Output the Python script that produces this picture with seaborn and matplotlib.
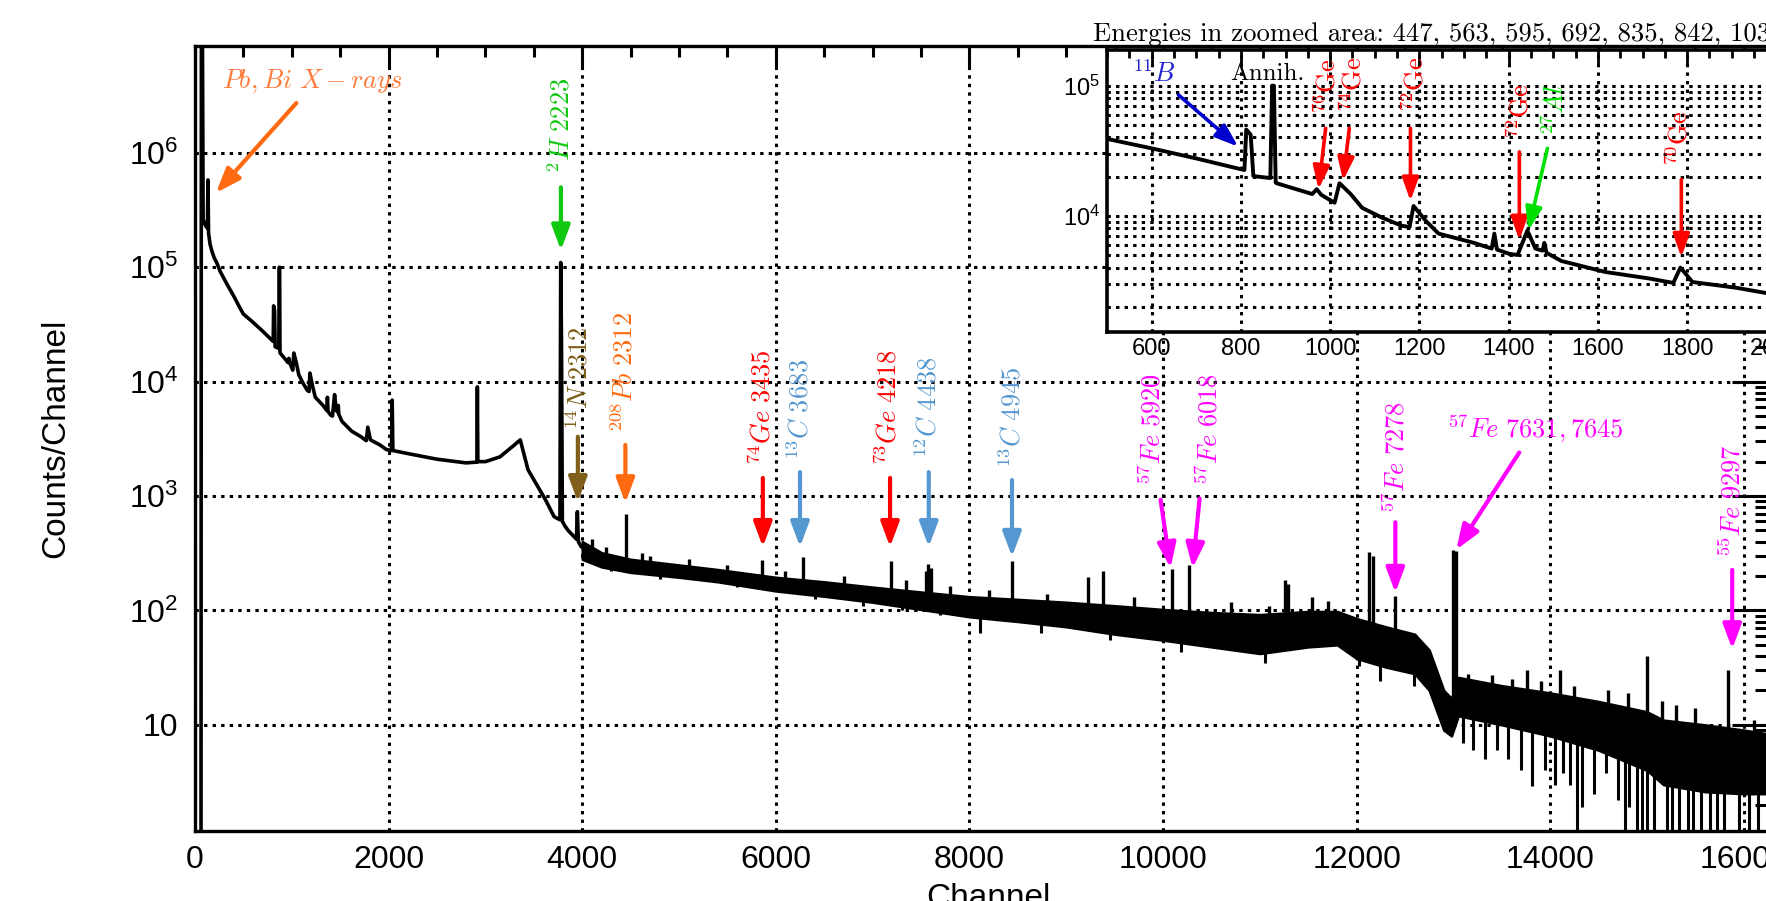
import numpy as np
import pandas as pd
import matplotlib
matplotlib.use("Agg")
import matplotlib.pyplot as plt
import seaborn as sns
from matplotlib.ticker import MultipleLocator, LogLocator, NullFormatter, FuncFormatter, FixedLocator

# ---------------- data ----------------
# smooth low-channel part of the spectrum
spec_ch = [62, 66, 74, 84, 110, 128, 134, 140, 155, 175,
           200, 224, 260, 327, 400, 465, 500, 600, 700, 800,
           808, 812, 822, 828, 866, 870, 874, 878, 880, 960,
           970, 980, 1010, 1021, 1046, 1072, 1116, 1160, 1178, 1187,
           1215, 1243, 1322, 1362, 1368, 1374, 1402, 1420, 1442, 1460,
           1476, 1480, 1485, 1518, 1617, 1715, 1769, 1785, 1812, 1910,
           1977, 2030, 2037, 2044, 2200, 2500, 2800, 2912, 2917, 2922,
           3000, 3150, 3300, 3360, 3440, 3620, 3710, 3770, 3778, 3786,
           3795, 3820, 3855, 3940, 3950, 3960, 3990]
spec_counts = [0.5, 5e7, 5e7, 2.6e5, 2.3e5, 2.2e5, 5.8e5, 2.0e5, 1.6e5, 1.38e5,
               1.2e5, 1.1e5, 9.2e4, 7.2e4, 5.6e4, 4.4e4, 3.9e4, 3.3e4, 2.76e4, 2.28e4,
               2.25e4, 4.6e4, 4.2e4, 2.02e4, 1.95e4, 1.0e5, 1.0e5, 1.8e4, 1.78e4, 1.47e4,
               1.6e4, 1.45e4, 1.26e4, 1.78e4, 1.47e4, 1.15e4, 9.7e3, 8.4e3, 8.2e3, 1.19e4,
               9.1e3, 7.3e3, 6.2e3, 5.6e3, 7.3e3, 5.5e3, 5.1e3, 5.0e3, 7.7e3, 5.6e3,
               5.4e3, 6.2e3, 5.2e3, 4.5e3, 3.7e3, 3.3e3, 3.05e3, 4.0e3, 3.1e3, 2.8e3,
               2.55e3, 2.5e3, 6.9e3, 2.5e3, 2.35e3, 2.1e3, 1.95e3, 1.98e3, 9.0e3, 2.0e3,
               2.0e3, 2.2e3, 2.8e3, 3.1e3, 1.7e3, 930, 660, 620, 1.1e5, 2.2e4,
               600, 550, 500, 420, 730, 400, 360]

# noisy high-channel part: upper / lower envelope of the dense band
band_ch = [4000, 4200, 4500, 5000, 5400, 6000, 6500, 7000, 7500, 8000,
           8500, 9000, 9500, 10000, 10500, 11000, 11500, 11800, 12000, 12300,
           12600, 12750, 12900, 12980, 13050, 13500, 14000, 14500, 15000, 15170,
           15600, 16000, 16384]
band_hi = [400, 320, 280, 250, 228, 195, 178, 160, 145, 132,
           125, 118, 110, 102, 96, 92, 98, 98, 85, 72,
           62, 45, 20, 17, 26, 22, 19, 16, 13, 11,
           10, 9, 8]
band_lo = [280, 240, 215, 195, 178, 148, 133, 118, 102, 88,
           80, 72, 62, 55, 48, 42, 48, 50, 38, 32,
           28, 20, 9, 8, 12, 10, 8, 6, 4, 3,
           2.6, 2.5, 2.5]

# sharp upward spikes sitting on the band
peak_ch = [4100, 4250, 4448, 4620, 4700, 5100, 5500, 5857, 6100, 6280,
           6700, 7187, 7350, 7550, 7575, 7600, 7800, 8200, 8440, 8800,
           9222, 9383, 9700, 10090, 10270, 10700, 11100, 11265, 11290, 11540,
           11700, 12130, 12170, 12400, 13000, 13022, 13150, 13400, 13600, 13760,
           13900, 14100, 14250, 14600, 14800, 15000, 15150, 15300, 15500, 15840,
           16100]
peak_top = [420, 360, 700, 320, 300, 280, 250, 275, 220, 295,
            200, 270, 185, 220, 255, 235, 165, 150, 270, 140,
            195, 220, 130, 230, 250, 118, 110, 185, 170, 130,
            120, 325, 300, 135, 340, 330, 28, 27, 25, 30,
            24, 30, 22, 20, 19, 40, 16, 15, 14, 30,
            11]
peak_base = [300, 260, 240, 240, 230, 210, 190, 160, 160, 150,
             140, 130, 120, 115, 115, 115, 110, 100, 95, 90,
             85, 75, 70, 70, 65, 55, 50, 60, 60, 60,
             60, 50, 50, 45, 12, 12, 12, 12, 10, 10,
             10, 10, 8, 8, 6, 6, 5, 4, 4, 4,
             4]

# downward fluctuations
dip_ch = [4300, 4800, 5600, 6400, 6900, 7300, 7700, 8106, 8736, 9450,
          10190, 11050, 12020, 12240, 12590, 13100, 13200, 13330, 13450, 13560,
          13700, 13810, 13950, 14050, 14130, 14200, 14280, 14330, 14450, 14580,
          14700, 14776, 14810, 14900, 14950, 15000, 15070, 15210, 15260, 15330,
          15420, 15480, 15560, 15650, 15720, 15800, 15950, 16050, 16150, 16250,
          16330]
dip_low = [220, 190, 160, 125, 110, 100, 92, 63, 63, 55,
           43, 35, 33, 24, 22, 7, 6, 5, 6, 5,
           4, 2.9, 4, 3, 3.8, 3, 1.0, 1.9, 2.5, 3.8,
           2.2, 1.0, 1.9, 1.0, 1.0, 1.0, 1.0, 1.0, 1.0, 1.0,
           1.0, 1.0, 1.0, 1.0, 1.0, 1.0, 1.0, 1.0, 1.0, 1.0,
           1.0]
dip_top = [260, 220, 190, 150, 130, 120, 110, 100, 100, 90,
           80, 70, 60, 50, 45, 15, 15, 15, 15, 15,
           12, 12, 12, 12, 12, 12, 10, 10, 10, 10,
           8, 8, 8, 8, 8, 8, 8, 6, 6, 6,
           6, 6, 6, 6, 6, 6, 5, 5, 5, 5,
           5]

x_ticks_main = [0, 2000, 4000, 6000, 8000, 10000, 12000, 14000, 16000]

# main-panel line labels
ann_labels = [r'$^{2}H\ 2223$', r'$^{14}N\ 2312$', r'$^{208}Pb\ 2312$', r'$^{74}Ge\ 3435$',
              r'$^{13}C\ 3683$', r'$^{73}Ge\ 4218$', r'$^{12}C\ 4438$', r'$^{13}C\ 4945$',
              r'$^{57}Fe\ 5920$', r'$^{57}Fe\ 6018$', r'$^{57}Fe\ 7278$', r'$^{55}Fe\ 9297$']
ann_text_ch = [3783, 3970, 4435, 5856, 6255, 7162, 7575, 8443, 9885, 10480, 12410, 15880]
ann_text_y = [6.7e5, 3.8e3, 3.6e3, 1.87e3, 2.07e3, 1.87e3, 2.16e3, 1.77e3, 1.25e3, 1.25e3, 713, 295]
ann_tail_ch = [3780, 3955, 4446, 5866, 6250, 7180, 7580, 8440, 9975, 10378, 12400, 15880]
ann_tail_y = [5.0e5, 3.3e3, 2.8e3, 1.44e3, 1.62e3, 1.44e3, 1.62e3, 1.38e3, 927, 950, 590, 226]
ann_head_ch = [3780, 3955, 4446, 5866, 6250, 7180, 7580, 8440, 10078, 10306, 12400, 15880]
ann_head_y = [1.41e5, 890, 870, 360, 360, 360, 360, 295, 235, 235, 143, 46]
ann_colors = ['#10C810', '#7F5F1A', '#FF6A10', '#FF0000', '#5597D0', '#FF0000', '#5597D0',
              '#5597D0', '#FF00FF', '#FF00FF', '#FF00FF', '#FF00FF']

# inset labels
ins_labels = [r'$^{76}\mathrm{Ge}$', r'$^{74}\mathrm{Ge}$', r'$^{72}\mathrm{Ge}$',
              r'$^{72}\mathrm{Ge}$', r'$^{27}Al$', r'$^{70}\mathrm{Ge}$']
ins_text_ch = [994, 1052, 1191, 1426, 1505, 1783]
ins_text_y = [6.1e4, 6.3e4, 6.3e4, 3.9e4, 4.2e4, 2.4e4]
ins_tail_ch = [990, 1043, 1180, 1424, 1487, 1787]
ins_tail_y = [4.7e4, 4.7e4, 4.7e4, 3.1e4, 3.3e4, 1.9e4]
ins_head_ch = [974, 1029, 1180, 1424, 1444, 1787]
ins_head_y = [1.6e4, 1.86e4, 1.3e4, 6.5e3, 7.7e3, 4.8e3]
ins_colors = ['#FF0000', '#FF0000', '#FF0000', '#FF0000', '#00E000', '#FF0000']

inset_title = 'Energies in zoomed area: 447, 563, 595, 692, 835, 842, 1038'

# ---------------- style ----------------
sns.set_theme(style="white")
plt.rcParams['font.family'] = ['Liberation Sans', 'DejaVu Sans']
plt.rcParams['mathtext.fontset'] = 'custom'
plt.rcParams['mathtext.rm'] = 'Liberation Sans'
plt.rcParams['mathtext.it'] = 'Liberation Sans:italic'
plt.rcParams['mathtext.bf'] = 'Liberation Sans:bold'
plt.rcParams['axes.unicode_minus'] = False

W, H = 1766, 901
fig = plt.figure(figsize=(W / 100, H / 100), dpi=100)
fig.patch.set_facecolor('white')

L, R, T, B = 195, 1781, 46, 831
ax = fig.add_axes([L / W, 1 - B / H, (R - L) / W, (B - T) / H])
ax.set_facecolor('white')
ax.set_yscale('log')

spec = pd.DataFrame({'Channel': spec_ch, 'Counts': spec_counts})
sns.lineplot(data=spec, x='Channel', y='Counts', ax=ax, color='black', lw=2.6,
             estimator=None, sort=False, zorder=3)
ax.fill_between(band_ch, band_lo, band_hi, color='black', lw=1.8, zorder=3)
ax.vlines(peak_ch, peak_base, peak_top, color='black', lw=2.4, zorder=3)
ax.vlines(dip_ch, dip_low, dip_top, color='black', lw=2.2, zorder=3)

ax.set_xlim(0, 16384)
ax.set_ylim(1.18, 8.6e6)
ax.set_xlabel('')
ax.set_ylabel('')

def yfmt(v, pos):
    e = int(round(np.log10(v)))
    if e < 1:
        return ''
    if e == 1:
        return '10'
    return r'$10^{%d}$' % e

ax.xaxis.set_major_locator(FixedLocator(x_ticks_main))
ax.xaxis.set_minor_locator(MultipleLocator(500))
ax.xaxis.set_major_formatter(FuncFormatter(lambda v, p: '%d' % v))
ax.yaxis.set_major_locator(LogLocator(base=10, numticks=20))
ax.yaxis.set_minor_locator(LogLocator(base=10, subs=np.arange(2, 10), numticks=200))
ax.yaxis.set_minor_formatter(NullFormatter())
ax.yaxis.set_major_formatter(FuncFormatter(yfmt))

ax.tick_params(axis='both', which='both', direction='in', top=True, right=True,
               colors='black', width=2.2)
ax.tick_params(axis='x', which='major', length=16, labelsize=23, pad=10)
ax.tick_params(axis='x', which='minor', length=8)
ax.tick_params(axis='y', which='major', length=35, labelsize=23, pad=12)
ax.tick_params(axis='y', which='minor', length=19)

ax.grid(True, which='major', color='black', ls=(0, (1.1, 1.7)), lw=2.2)
ax.set_axisbelow(True)
for sp in ax.spines.values():
    sp.set_linewidth(2.4)
    sp.set_color('black')

ax.set_xlabel('Channel', fontsize=24, color='black')
ax.set_ylabel('Counts/Channel', fontsize=24, color='black')
ax.xaxis.set_label_coords(0.5, -0.066)
ax.yaxis.set_label_coords(-0.078, 0.5)

def arrow(a, tail, head, color, lw=3.0, hl=0.75, hw=0.28, ms=20):
    a.annotate('', xy=head, xytext=tail,
               arrowprops=dict(arrowstyle='-|>,head_length=%s,head_width=%s' % (hl, hw),
                               color=color, lw=lw, shrinkA=0, shrinkB=0,
                               mutation_scale=ms), zorder=6)

for lab, tx, ty, t0, t1, h0, h1, c in zip(ann_labels, ann_text_ch, ann_text_y,
                                          ann_tail_ch, ann_tail_y, ann_head_ch, ann_head_y,
                                          ann_colors):
    ax.text(tx, ty, lab, rotation=90, ha='center', va='bottom', color=c,
            fontsize=19, math_fontfamily='cm', zorder=6)
    arrow(ax, (t0, t1), (h0, h1), c)

# Pb, Bi X-rays
ax.text(279, 4.2e6, r'$Pb, Bi\ X-rays$', ha='left', va='center', color='#FF7A3A',
        fontsize=19, math_fontfamily='cm', zorder=6)
arrow(ax, (1047, 2.73e6), (217, 4.47e5), '#FF6A10')
# 57Fe 7631, 7645
ax.text(12930, 3.8e3, r'$^{57}Fe\ 7631, 7645$', ha='left', va='center', color='#FF00FF',
        fontsize=19, math_fontfamily='cm', zorder=6)
arrow(ax, (13680, 2.4e3), (13030, 340), '#FF00FF')

# ---------------- inset ----------------
IL, IR, IT, IB = 1107, 1821, 50, 332
axin = fig.add_axes([IL / W, 1 - IB / H, (IR - IL) / W, (IB - IT) / H])
axin.set_zorder(5)
axin.set_facecolor('white')
axin.set_yscale('log')
sns.lineplot(data=spec, x='Channel', y='Counts', ax=axin, color='black', lw=2.8,
             estimator=None, sort=False, zorder=3)
axin.set_xlim(500, 2100)
axin.set_ylim(1280, 1.88e5)
axin.set_xlabel('')
axin.set_ylabel('')
axin.xaxis.set_major_locator(MultipleLocator(200))
axin.xaxis.set_minor_locator(MultipleLocator(50))
axin.xaxis.set_major_formatter(FuncFormatter(lambda v, p: '%d' % v))
axin.yaxis.set_major_locator(LogLocator(base=10, numticks=20))
axin.yaxis.set_minor_locator(LogLocator(base=10, subs=np.arange(2, 10), numticks=200))
axin.yaxis.set_minor_formatter(NullFormatter())
axin.yaxis.set_major_formatter(FuncFormatter(yfmt))
axin.tick_params(axis='both', which='both', direction='in', top=True, right=True,
                 colors='black', width=2.0)
axin.tick_params(axis='x', which='major', length=10, labelsize=17, pad=4)
axin.tick_params(axis='x', which='minor', length=6)
axin.tick_params(axis='y', which='major', length=16, labelsize=17, pad=5)
axin.tick_params(axis='y', which='minor', length=10)
axin.grid(True, axis='x', which='major', color='black', ls=(0, (1.1, 1.7)), lw=2.2)
axin.grid(True, axis='y', which='both', color='black', ls=(0, (1.1, 1.7)), lw=2.2)
axin.set_axisbelow(True)
for sp in axin.spines.values():
    sp.set_linewidth(2.6)
    sp.set_color('black')

for lab, tx, ty, t0, t1, h0, h1, c in zip(ins_labels, ins_text_ch, ins_text_y,
                                          ins_tail_ch, ins_tail_y, ins_head_ch, ins_head_y,
                                          ins_colors):
    axin.text(tx, ty, lab, rotation=90, ha='center', va='bottom', color=c,
              fontsize=19, math_fontfamily='cm', zorder=6)
    arrow(axin, (t0, t1), (h0, h1), c, lw=2.6, hl=0.7, hw=0.25)

axin.text(557, 1.23e5, r'$^{11}B$', ha='left', va='center', color='#2020D0',
          fontsize=19, math_fontfamily='cm', zorder=6)
arrow(axin, (660, 8.5e4), (794, 3.4e4), '#0000CC', lw=2.6, hl=0.7, hw=0.25)
axin.text(775, 1.23e5, 'Annih.', ha='left', va='center', color='black',
          fontsize=18, fontfamily='cmr10', zorder=6)

fig.text(1093 / W, 1 - 34 / H, inset_title, fontfamily='cmr10', fontsize=19.2,
         ha='left', va='center', color='black')

fig.savefig('out.png', dpi=100, facecolor='white')
